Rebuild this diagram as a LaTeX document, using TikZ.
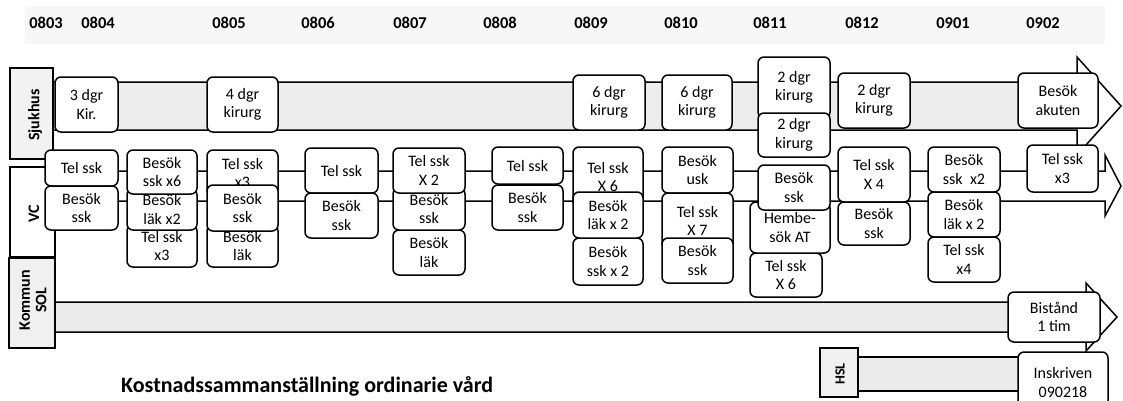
\documentclass[tikz,border=0pt]{standalone}
\usepackage{fontspec}
\setmainfont{Carlito}
\tikzset{
  box/.style={draw, line width=1.5pt, rounded corners=6pt, fill=white, align=center,
    inner sep=0pt, font=\fontsize{16}{18.5}\selectfont},
  lane/.style={draw, line width=1.5pt, inner sep=0pt},
  lanetxt/.style={font=\bfseries\fontsize{16}{16.5}\selectfont, rotate=90, align=center, inner sep=0pt},
  month/.style={font=\bfseries\fontsize{16.5}{18}\selectfont, inner sep=0pt},
  arrowline/.style={line width=1.5pt, line join=miter},
}
\newcommand\bx[6]{\node[box, minimum width={(#4)-(#2)}, minimum height={(#5)-(#3)}] (#1) at ({((#2)+(#4))/2},{((#3)+(#5))/2}) {#6};}
\begin{document}
\begin{tikzpicture}[x=1pt,y=-1pt]
\useasboundingbox (0,0) rectangle (1123,400);
% month band
\fill[black!3] (25,6) rectangle (1105,44);
\foreach \m/\x [count=\i] in {0803/46,0804/98,0805/229,0806/318,0807/410,0808/500,0809/591,0810/681,0811/770,0812/862,0901/953,0902/1043}
  \node[month] (m\i) at (\x,23) {\m};
% arrow bodies
\fill[black!7] (53,82) rectangle (1077,130);
\fill[black!8] (55,302) rectangle (1086,332);
\fill[black!8] (858,357) rectangle (1040,391);
\draw[arrowline] (53,82) -- (1077,82) -- (1077,57) -- (1121,106) -- (1077,155) -- (1077,130) -- (53,130);
\draw[arrowline] (55,171) -- (1105,171) -- (1105,155) -- (1121,186) -- (1105,216) -- (1105,201) -- (55,201);
\draw[arrowline] (55,302) -- (1086,302) -- (1086,283) -- (1117,317) -- (1086,351) -- (1086,332) -- (55,332);
\draw[arrowline] (858,357) -- (1040,357) (858,391) -- (1040,391);
% lane labels
\node[lane, fill=black!5, minimum width=43, minimum height=91] (sj) at (31.5,113.5) {};
\node[lanetxt] (sjt) at (35,115) {Sjukhus};
\node[lane, fill=white, minimum width=45, minimum height=90] (vc) at (32.5,212) {};
\node[lanetxt] (vct) at (34,214) {VC};
\node[lane, fill=black!6, minimum width=46, minimum height=90] (ko) at (32,303) {};
\node[lanetxt] (kot) at (33,300) {Kommun\\SOL};
\node[lane, fill=black!6, minimum width=38, minimum height=49] (hsl) at (839,372.5) {};
\node[lanetxt, font=\bfseries\fontsize{14}{15}\selectfont] (hslt) at (840,374) {HSL};
% Sjukhus boxes
\bx{s1}{55}{77}{118}{132}{3 dgr\\Kir.}
\bx{s2}{207}{77}{278}{132}{4 dgr\\kirurg}
\bx{s3}{573}{75}{645}{130}{6 dgr\\kirurg}
\bx{s4}{662}{75}{732}{130}{6 dgr\\kirurg}
\bx{s5a}{758}{57}{830}{118}{2 dgr\\kirurg}
\bx{s5b}{758}{113}{830}{157}{2 dgr\\kirurg}
\bx{s6}{838}{73}{910}{128}{2 dgr\\kirurg}
\bx{s7}{1018}{73}{1098}{128}{Besök\\akuten}
% VC boxes
\bx{v1a}{45}{150}{118}{186}{Tel ssk}
\bx{v1b}{45}{186}{118}{230}{Besök\\ssk}
\bx{v2c}{127}{225}{197}{267}{Tel ssk\\x3}
\bx{v2b}{127}{189}{197}{230}{Besök\\läk x2}
\bx{v2a}{127}{150}{197}{194}{Besök\\ssk x6}
\bx{v3a}{207}{150}{278}{196}{Tel ssk\\x3}
\bx{v3c}{207}{225}{278}{267}{Besök\\läk}
\bx{v3b}{207}{185}{278}{231}{Besök\\ssk}
\bx{v4a}{305}{148}{378}{193}{Tel ssk}
\bx{v4b}{305}{193}{378}{238}{Besök\\ssk}
\bx{v5c}{393}{230}{465}{275}{Besök\\läk}
\bx{v5b}{393}{188}{465}{230}{Besök\\ssk}
\bx{v5a}{393}{148}{465}{193}{Tel ssk\\X 2}
\bx{v6a}{492}{147}{563}{184}{Tel ssk}
\bx{v6b}{492}{185}{563}{230}{Besök\\ssk}
\bx{v7a}{573}{147}{643}{207}{Tel ssk\\X 6}
\bx{v7c}{573}{238}{643}{285}{Besök\\ssk x 2}
\bx{v7b}{573}{192}{643}{238}{Besök\\läk x 2}
\bx{v8a}{662}{147}{733}{193}{Besök\\usk}
\bx{v8b}{662}{193}{733}{249}{Tel ssk\\X 7}
\bx{v8c}{662}{238}{733}{283}{Besök\\ssk}
\bx{v9c}{750}{253}{822}{297}{Tel ssk\\X 6}
\bx{v9b}{750}{202}{830}{253}{Hembe-\\sök AT}
\bx{v9a}{758}{165}{830}{210}{Besök\\ssk}
\bx{v10a}{838}{147}{910}{202}{Tel ssk\\X 4}
\bx{v10b}{838}{202}{910}{245}{Besök\\ssk}
\bx{v11a}{928}{147}{1000}{192}{Besök\\ssk~ x2}
\bx{v11b}{928}{192}{1000}{237}{Besök\\läk x 2}
\bx{v11c}{928}{237}{1000}{282}{Tel ssk\\x4}
\bx{v12}{1027}{145}{1098}{192}{Tel ssk\\x3}
% Kommun / HSL boxes
\bx{k1}{1008}{292}{1100}{342}{Bistånd\\1 tim}
\bx{h1}{1018}{352}{1108}{413}{Inskriven\\090218}
% title
\node[anchor=base west, inner sep=0pt, font=\bfseries\fontsize{22}{24}\selectfont] (title) at (121,392) {Kostnadssammanställning ordinarie vård};
\end{tikzpicture}
\end{document}
